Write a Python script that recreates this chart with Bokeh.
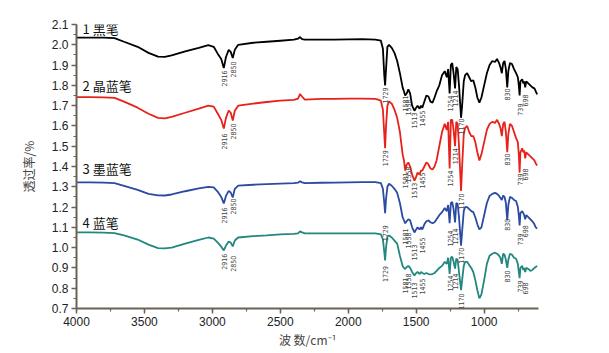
import math
from bokeh.plotting import figure
from bokeh.models import Range1d, SingleIntervalTicker, PrintfTickFormatter
from bokeh.core.properties import value
from bokeh.embed import file_html
from bokeh.resources import INLINE

# ---------------- data ----------------
wn_black = [4000, 3900, 3800, 3720, 3650, 3550, 3470, 3400, 3350, 3300, 3200, 3100, 3030, 2990, 2960, 2935, 2916, 2900, 2880, 2865, 2850, 2835, 2810, 2700, 2600, 2500, 2400, 2370, 2355, 2340, 2320, 2200, 2100, 2000, 1900, 1800, 1760, 1745, 1735, 1729, 1722, 1712, 1700, 1680, 1660, 1640, 1620, 1600, 1590, 1581, 1570, 1558, 1545, 1530, 1513, 1500, 1490, 1475, 1465, 1455, 1440, 1425, 1410, 1395, 1380, 1365, 1350, 1330, 1310, 1290, 1275, 1265, 1254, 1245, 1235, 1225, 1214, 1205, 1195, 1185, 1170, 1162, 1150, 1140, 1125, 1110, 1095, 1080, 1065, 1050, 1035, 1020, 1000, 980, 960, 940, 920, 905, 890, 880, 870, 860, 850, 840, 830, 822, 810, 795, 780, 765, 752, 745, 739, 733, 720, 712, 705, 698, 690, 675, 660, 645, 630, 620, 610]
t_black = [2.035, 2.035, 2.035, 2.033, 2.015, 1.99, 1.96, 1.942, 1.940, 1.948, 1.968, 1.985, 1.998, 1.99, 1.955, 1.93, 1.885, 1.94, 1.975, 1.965, 1.935, 1.975, 2.0, 2.01, 2.015, 2.02, 2.025, 2.03, 2.038, 2.028, 2.025, 2.025, 2.025, 2.027, 2.028, 2.025, 2.02, 1.98, 1.85, 1.80, 1.88, 1.99, 2.0, 1.985, 1.96, 1.92, 1.86, 1.79, 1.77, 1.75, 1.76, 1.78, 1.76, 1.70, 1.675, 1.69, 1.70, 1.685, 1.70, 1.69, 1.72, 1.75, 1.745, 1.72, 1.715, 1.74, 1.77, 1.80, 1.85, 1.87, 1.84, 1.88, 1.76, 1.90, 1.91, 1.86, 1.785, 1.89, 1.88, 1.80, 1.64, 1.70, 1.82, 1.85, 1.86, 1.84, 1.82, 1.825, 1.79, 1.74, 1.715, 1.74, 1.80, 1.86, 1.90, 1.92, 1.915, 1.93, 1.91, 1.89, 1.86, 1.91, 1.92, 1.88, 1.79, 1.87, 1.91, 1.905, 1.88, 1.86, 1.84, 1.80, 1.75, 1.82, 1.83, 1.81, 1.82, 1.79, 1.82, 1.81, 1.80, 1.79, 1.785, 1.77, 1.755]

wn_red = wn_black
t_red = [1.742, 1.742, 1.741, 1.738, 1.72, 1.69, 1.66, 1.64, 1.637, 1.645, 1.665, 1.685, 1.70, 1.695, 1.66, 1.63, 1.587, 1.64, 1.676, 1.665, 1.627, 1.675, 1.70, 1.71, 1.718, 1.725, 1.728, 1.735, 1.757, 1.745, 1.73, 1.733, 1.733, 1.735, 1.735, 1.733, 1.725, 1.68, 1.56, 1.49, 1.60, 1.70, 1.72, 1.71, 1.68, 1.64, 1.57, 1.46, 1.43, 1.38, 1.41, 1.42, 1.40, 1.36, 1.33, 1.35, 1.37, 1.36, 1.38, 1.38, 1.40, 1.42, 1.41, 1.39, 1.385, 1.40, 1.43, 1.50, 1.57, 1.61, 1.58, 1.62, 1.39, 1.63, 1.63, 1.58, 1.50, 1.62, 1.61, 1.50, 1.28, 1.40, 1.56, 1.59, 1.60, 1.57, 1.55, 1.55, 1.52, 1.47, 1.43, 1.46, 1.52, 1.58, 1.61, 1.62, 1.615, 1.63, 1.61, 1.59, 1.55, 1.61, 1.62, 1.57, 1.47, 1.56, 1.61, 1.60, 1.57, 1.54, 1.52, 1.46, 1.37, 1.47, 1.49, 1.47, 1.48, 1.44, 1.47, 1.46, 1.45, 1.44, 1.43, 1.415, 1.405]

wn_blue = wn_black
t_blue = [1.322, 1.322, 1.321, 1.318, 1.305, 1.285, 1.265, 1.258, 1.257, 1.262, 1.278, 1.292, 1.30, 1.297, 1.275, 1.25, 1.218, 1.255, 1.28, 1.272, 1.247, 1.29, 1.306, 1.31, 1.313, 1.316, 1.318, 1.32, 1.327, 1.322, 1.318, 1.32, 1.321, 1.322, 1.323, 1.323, 1.318, 1.29, 1.22, 1.17, 1.24, 1.30, 1.315, 1.305, 1.29, 1.27, 1.22, 1.15, 1.135, 1.12, 1.13, 1.14, 1.135, 1.10, 1.075, 1.09, 1.10, 1.09, 1.10, 1.09, 1.115, 1.13, 1.134, 1.125, 1.12, 1.125, 1.14, 1.16, 1.175, 1.195, 1.18, 1.21, 1.12, 1.22, 1.225, 1.19, 1.124, 1.22, 1.215, 1.15, 1.01, 1.08, 1.18, 1.20, 1.20, 1.19, 1.18, 1.175, 1.15, 1.115, 1.09, 1.10, 1.16, 1.22, 1.255, 1.265, 1.27, 1.265, 1.255, 1.245, 1.235, 1.257, 1.25, 1.22, 1.134, 1.21, 1.25, 1.245, 1.235, 1.23, 1.20, 1.16, 1.11, 1.17, 1.18, 1.17, 1.16, 1.14, 1.16, 1.15, 1.14, 1.13, 1.115, 1.10, 1.094]

wn_teal = wn_black
t_teal = [1.075, 1.075, 1.074, 1.072, 1.06, 1.04, 1.015, 0.998, 0.996, 1.0, 1.02, 1.038, 1.05, 1.045, 1.025, 1.005, 0.986, 1.01, 1.03, 1.025, 1.006, 1.035, 1.05, 1.057, 1.06, 1.065, 1.068, 1.07, 1.08, 1.075, 1.07, 1.07, 1.07, 1.07, 1.07, 1.07, 1.065, 1.04, 0.98, 0.937, 1.0, 1.055, 1.06, 1.05, 1.035, 1.02, 0.96, 0.91, 0.90, 0.895, 0.905, 0.91, 0.90, 0.88, 0.863, 0.875, 0.88, 0.87, 0.88, 0.875, 0.87, 0.875, 0.87, 0.868, 0.87, 0.875, 0.885, 0.90, 0.91, 0.93, 0.92, 0.95, 0.87, 0.95, 0.955, 0.93, 0.897, 0.946, 0.94, 0.88, 0.79, 0.84, 0.91, 0.93, 0.93, 0.915, 0.90, 0.88, 0.84, 0.79, 0.75, 0.77, 0.84, 0.92, 0.96, 0.97, 0.975, 0.97, 0.96, 0.95, 0.92, 0.97, 0.965, 0.94, 0.90, 0.94, 0.97, 0.965, 0.95, 0.945, 0.92, 0.88, 0.85, 0.90, 0.91, 0.89, 0.90, 0.88, 0.90, 0.895, 0.885, 0.89, 0.90, 0.905, 0.91]

series_names = ["1 黑笔", "2 晶蓝笔", "3 墨蓝笔", "4 蓝笔"]
name_y = [2.08, 1.80, 1.39, 1.124]

peak_wn = [2916, 2850, 1729, 1581, 1558, 1513, 1455, 1254, 1214, 1170, 830, 739, 698]
peak_labels = [str(w) for w in peak_wn]
peak_top_black = [1.873, 1.918, 1.79, 1.75, 1.73, 1.666, 1.676, 1.75, 1.775, 1.637, 1.785, 1.71, 1.755]
peak_top_red = [1.563, 1.612, 1.48, 1.37, 1.40, 1.32, 1.37, 1.38, 1.49, 1.267, 1.464, 1.366, 1.39]
peak_top_blue = [1.198, 1.242, 1.11, 1.094, 1.075, 1.016, 1.05, 1.085, 1.094, 1.0, 1.143, 1.07, 1.11]
peak_top_teal = [0.97, 0.96, 0.91, 0.853, 0.873, 0.828, 0.848, 0.863, 0.873, 0.774, 0.887, 0.838, 0.828]

colors = ["#000000", "#e8211b", "#2b4aa2", "#22877e"]

# ---------------- figure ----------------
p = figure(width=609, height=353, output_backend="svg", toolbar_location=None,
           x_range=Range1d(4000, 600), y_range=Range1d(0.7, 2.1),
           min_border_left=76, min_border_right=71, min_border_top=24, min_border_bottom=45)
p.outline_line_color = None
p.xgrid.visible = False
p.ygrid.visible = False
p.background_fill_color = "white"
p.border_fill_color = "white"

axis_col = "#6b6256"
for ax in (p.xaxis[0], p.yaxis[0]):
    ax.axis_line_color = axis_col
    ax.axis_line_width = 2
    ax.major_tick_line_color = axis_col
    ax.minor_tick_line_color = axis_col
    ax.major_tick_line_width = 1.5
    ax.minor_tick_line_width = 1.2
    ax.major_tick_out = 5
    ax.major_tick_in = 0
    ax.minor_tick_out = 3
    ax.minor_tick_in = 0
    ax.major_label_text_font = "Liberation Sans"
    ax.major_label_text_font_size = "12px"
    ax.major_label_text_color = "#222222"
    ax.axis_label_text_font = "Noto Sans CJK SC"
    ax.axis_label_text_font_size = "12px"
    ax.axis_label_text_font_style = "normal"
    ax.axis_label_text_color = "#444444"

p.xaxis.ticker = SingleIntervalTicker(interval=500, num_minor_ticks=2)
p.yaxis.ticker = SingleIntervalTicker(interval=0.1, num_minor_ticks=2)
p.yaxis.formatter = PrintfTickFormatter(format="%.1f")
p.xaxis.major_label_standoff = 3
p.yaxis.major_label_standoff = 3
p.xaxis.axis_label = "波 数/cm⁻¹"
p.yaxis.axis_label = "透过率/%"
p.xaxis.axis_label_standoff = 2
p.yaxis.axis_label_standoff = 12

series = [(wn_black, t_black), (wn_red, t_red), (wn_blue, t_blue), (wn_teal, t_teal)]
for (wx, ty), c in zip(series, colors):
    p.line(wx, ty, line_color=c, line_width=1.8)

tops = [peak_top_black, peak_top_red, peak_top_blue, peak_top_teal]
for tp in tops:
    p.text(x=peak_wn, y=tp, text=peak_labels, angle=math.pi / 2,
           text_align="right", text_baseline="middle",
           text_font=value("'Liberation Sans Narrow', 'DejaVu Sans Condensed', 'Liberation Sans', sans-serif"),
           text_font_size="7px", text_color="#444444")

p.text(x=[3955] * 4, y=name_y, text=series_names, text_align="left",
       text_baseline="middle", text_font=value("Noto Sans CJK SC"),
       text_font_size="13px", text_color="#111111")

open("out.html", "w").write(file_html(p, INLINE))
